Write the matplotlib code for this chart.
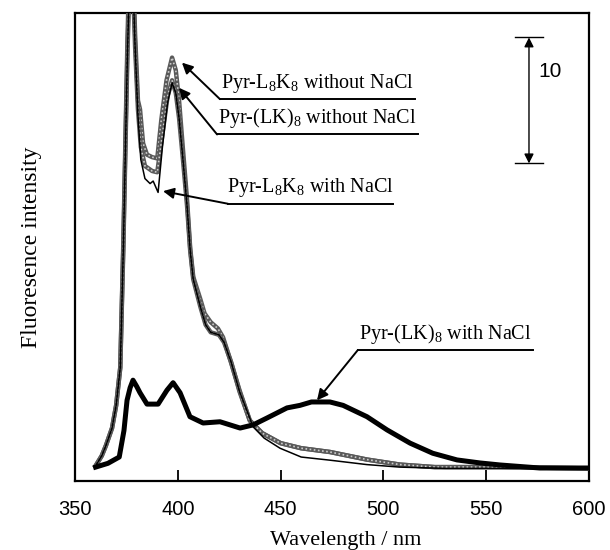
import numpy as np
import matplotlib
matplotlib.use("Agg")
import matplotlib.pyplot as plt

plt.rcParams['mathtext.fontset'] = 'custom'
plt.rcParams['mathtext.rm'] = 'Liberation Serif'

# Pyr-L8K8 sin NaCl (gris, exterior)
wl_a = [360, 363, 365, 368, 370, 372, 373.5, 375.5, 377.3, 379.2, 380.6, 381.6, 383.1, 385,
        387.5, 390, 392, 394.5, 397.2, 399, 400.6, 402.5, 404.5, 406, 407.5, 411, 413, 416,
        419.5, 422, 425.5, 430, 435, 441, 450, 460, 474, 492, 508, 525, 557, 600]
val_a = [1.2, 2.0, 2.8, 4.2, 6.0, 9.0, 19, 35, 46, 35.5, 30.2, 29.5, 26.8, 25.9,
         25.7, 25.6, 28.7, 31.8, 33.6, 32.6, 30.2, 26.3, 22.3, 18.5, 16.2, 14.4, 13.3, 12.6,
         12.1, 11.4, 9.6, 7.2, 4.8, 3.8, 3.0, 2.6, 2.3, 1.7, 1.3, 1.1, 1.1, 1.0]

# Pyr-(LK)8 sin NaCl (gris)
wl_b = [360, 363, 365, 368, 370, 372, 373.5, 375.5, 377.3, 379.2, 380.6, 382, 384, 387.5,
        390, 392.5, 395, 397.2, 399, 400.6, 402.5, 404.5, 406, 407.5, 411, 413.5, 416, 420,
        422.5, 426, 430, 435, 441, 450, 460, 474, 492, 508, 525, 557, 600]
val_b = [1.2, 2.0, 2.8, 4.2, 6.0, 9.0, 18.5, 34, 44, 34.5, 29.5, 26.5, 25.0, 24.6,
         24.5, 27.5, 30.5, 31.8, 30.8, 28.8, 25.5, 21.8, 18.3, 16.0, 13.8, 12.4, 11.8, 11.6,
         11.0, 9.4, 7.1, 4.8, 3.8, 3.0, 2.6, 2.3, 1.7, 1.3, 1.1, 1.1, 1.0]

# Pyr-L8K8 con NaCl (negro fino)
wl_c = [360, 363, 365, 368, 370, 372, 373.5, 375.5, 377.3, 379.2, 380.6, 382, 384, 386.5,
        388, 390.4, 392.5, 395, 397.2, 399, 400.6, 402.5, 404.5, 406, 407.5, 411, 413.5, 416,
        420, 422.5, 426, 430, 436.6, 442, 449.7, 460, 474, 492, 508, 530, 600]
val_c = [1.2, 2.0, 2.8, 4.2, 6.0, 9.0, 18.5, 34, 44, 34.5, 29.0, 25.5, 24.0, 23.6,
         23.8, 22.9, 26.5, 30.0, 31.6, 30.8, 28.8, 25.5, 21.8, 18.3, 16.0, 13.8, 12.4, 11.8,
         11.6, 11.0, 9.4, 7.1, 4.3, 3.4, 2.6, 1.9, 1.65, 1.3, 1.1, 1.0, 1.0]

# Pyr-(LK)8 con NaCl (negro grueso)
wl_d = [360, 366, 371.5, 373.8, 375.3, 376.8, 378.2, 380, 381.6, 385, 390.4, 394.7, 397.7,
        401.1, 405.9, 412.3, 420.5, 430.3, 436.6, 443.4, 453.1, 459.4, 465, 474, 480.4, 492,
        501.8, 513, 524, 535.8, 547, 556.7, 576, 600]
val_d = [1.1, 1.4, 1.9, 4.0, 6.4, 7.4, 8.0, 7.5, 7.0, 6.1, 6.1, 7.2, 7.8,
         7.0, 5.1, 4.6, 4.7, 4.2, 4.45, 5.0, 5.8, 6.0, 6.27, 6.27, 6.0, 5.1,
         4.05, 3.0, 2.2, 1.67, 1.43, 1.27, 1.03, 1.03]

xticks = [350, 400, 450, 500, 550, 600]

serif = 'Liberation Serif'
sans = 'Liberation Sans'

fig = plt.figure(figsize=(6.1, 5.5), dpi=100)
ax = fig.add_axes([0.123, 0.1255, 0.8426, 0.8509])

# curvas grises con textura punteada
for wl, val in [(wl_a, val_a), (wl_b, val_b)]:
    ax.plot(wl, val, color='0.35', lw=3.2, solid_joinstyle='round', zorder=3)
    ax.plot(wl, val, color='0.8', lw=1.2, ls=(0, (1, 1.5)), zorder=3)
ax.plot(wl_c, val_c, color='black', lw=1.1, zorder=4)
ax.plot(wl_d, val_d, color='black', lw=3.6, solid_joinstyle='round', zorder=5)

ax.set_xlim(350, 600)
ax.set_ylim(0, 37.14)
ax.set_xticks(xticks)
ax.set_xticklabels([str(t) for t in xticks], fontfamily=sans, fontsize=14.5)
ax.tick_params(axis='x', direction='in', length=8, width=1.3, pad=14)
ax.set_yticks([])
for s in ax.spines.values():
    s.set_linewidth(1.6)

ax.set_xlabel('Wavelength / nm', fontfamily=serif, fontsize=16)
ax.xaxis.set_label_coords(0.527, -0.106)
ax.set_ylabel('Fluoresence intensity', fontfamily=serif, fontsize=17, labelpad=24)

# Etiquetas con flecha y subrayado
etiquetas = [
    (r'Pyr-L$_\mathrm{8}$K$_\mathrm{8}$ without NaCl', (402.0, 33.2), 420.5, 515.4, 30.3),
    (r'Pyr-(LK)$_\mathrm{8}$ without NaCl', (400.6, 31.2), 419.1, 516.8, 27.5),
    (r'Pyr-L$_\mathrm{8}$K$_\mathrm{8}$ with NaCl', (392.8, 23.0), 424.4, 504.7, 22.0),
    (r'Pyr-(LK)$_\mathrm{8}$ with NaCl', (467.7, 6.4), 487.6, 572.8, 10.4),
]
for texto, punta, x0, x1, y in etiquetas:
    ax.plot([x0, x1], [y, y], color='black', lw=1.4, zorder=6)
    ax.annotate('', xy=punta, xytext=(x0, y),
                arrowprops=dict(arrowstyle='-|>', color='black', lw=1.4,
                                mutation_scale=16, shrinkA=0, shrinkB=0), zorder=6)
    ax.text((x0 + x1) / 2, y + 0.35, texto, ha='center', va='bottom',
            fontfamily=serif, fontsize=14.5, zorder=6)

# Barra de escala
ax.annotate('', xy=(570.8, 35.2), xytext=(570.8, 25.2),
            arrowprops=dict(arrowstyle='<|-|>', color='black', lw=1.0,
                            mutation_scale=14, shrinkA=0, shrinkB=0))
ax.plot([564, 577.6], [35.2, 35.2], color='black', lw=1.0)
ax.plot([564, 577.6], [25.2, 25.2], color='black', lw=1.0)
ax.text(575.5, 32.5, '10', fontfamily=sans, fontsize=15, ha='left', va='center')

fig.savefig('out.png', dpi=100)
